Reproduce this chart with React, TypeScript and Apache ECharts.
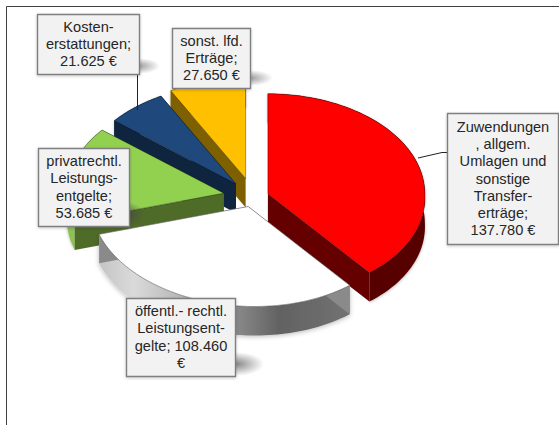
import React, { useEffect, useRef } from "react";
import * as echarts from "echarts";

const categories = [
  "Zuwendungen, allgem. Umlagen und sonstige Transfererträge",
  "öffentl.- rechtl. Leistungsentgelte",
  "privatrechtl. Leistungsentgelte",
  "Kostenerstattungen",
  "sonst. lfd. Erträge",
];
const values = [137780, 108460, 53685, 21625, 27650];
const labelTexts = [
  "Zuwendungen\n, allgem.\nUmlagen und\nsonstige\nTransfer-\nerträge;\n137.780 €",
  "öffentl.- rechtl.\nLeistungsent-\ngelte; 108.460\n€",
  "privatrechtl.\nLeistungs-\nentgelte;\n53.685 €",
  "Kosten-\nerstattungen;\n21.625 €",
  "sonst. lfd.\nErträge;\n27.650 €",
];
const topColors = ["#ff0000", "#ffffff", "#92d050", "#1f497d", "#ffc000"];
const faceColors = ["#640000", "#8a8a8a", "#4f6b28", "#0f243e", "#7f6000"];
const explode = [0.1, 0.1, 0.19, 0.17, 0.19];
const drawRank = [3, 4, 2, 1, 0];
const labelBoxes = [
  [447, 113, 111, 131],
  [126, 298, 109, 78],
  [38, 148, 91, 78],
  [37, 14, 102, 60],
  [172, 28, 78, 60],
];

const CX = 253;
const CY = 197;
const RX = 157;
const RY = 100;
const SHEAR = 0.04;
const DEPTH = 29;

const rimFill = (i: number): any => {
  if (i === 1) {
    return {
      type: "linear", x: 0, y: 0, x2: 1, y2: 0,
      colorStops: [
        { offset: 0, color: "#c4c4c4" },
        { offset: 0.14, color: "#dadada" },
        { offset: 0.45, color: "#a0a0a0" },
        { offset: 0.72, color: "#626262" },
        { offset: 1, color: "#727272" },
      ],
    };
  }
  if (i === 2) return "#8cc152";
  if (i === 0) return "#560000";
  return faceColors[i];
};

const renderSlice = (params: any, api: any) => {
  const i = params.dataIndex;
  const total = values.reduce((a, b) => a + b, 0);
  const before = values.slice(0, i).reduce((a, b) => a + b, 0);
  const start = (before / total) * Math.PI * 2;
  const end = ((before + api.value(0)) / total) * Math.PI * 2;
  const mid = (start + end) / 2;
  const ax = CX + Math.sin(mid) * explode[i] * RX;
  const ay = CY - Math.cos(mid) * explode[i] * RY;
  const rim: number[][] = [];
  const steps = 72;
  for (let s = 0; s <= steps; s++) {
    const t = start + ((end - start) * s) / steps;
    const front = Math.max(0, -Math.cos(t));
    rim.push([ax + (Math.sin(t) + SHEAR * front) * RX, ay - Math.cos(t) * RY]);
  }
  const down = (p: number[]) => [p[0], p[1] + DEPTH];
  const first = rim[0];
  const last = rim[rim.length - 1];
  const apex = [ax, ay];
  const z = drawRank[i] * 10;
  const stroke = i === 1 ? "rgba(90,90,90,0.75)" : "rgba(0,0,0,0.45)";
  const poly = (points: number[][], fill: any, z2: number, extra: any = {}) => ({
    type: "polygon",
    z2,
    silent: true,
    shape: { points },
    style: { fill, stroke: "none", ...extra },
  });
  return {
    type: "group",
    children: [
      poly([...rim, ...rim.slice().reverse().map(down)], rimFill(i), z + 1, {
        shadowBlur: i === 1 ? 5 : 3,
        shadowColor: "rgba(0,0,0,0.28)",
        shadowOffsetY: 1,
      }),
      poly([apex, first, down(first), down(apex)], faceColors[i], z + 2),
      poly([apex, last, down(last), down(apex)], faceColors[i], z + 3),
      poly([apex, ...rim], topColors[i], z + 4, { stroke, lineWidth: 0.8 }),
    ],
  };
};

export default function App() {
  const ref = useRef<HTMLDivElement>(null);
  useEffect(() => {
    const chart = echarts.init(ref.current!, undefined, { renderer: "svg" });
    const softShadow = (cx: number, cy: number, rx: number, ry: number, alpha: number) => ({
      type: "ellipse",
      z: 5,
      silent: true,
      shape: { cx, cy, rx, ry },
      style: {
        fill: {
          type: "radial", x: 0.5, y: 0.5, r: 0.5,
          colorStops: [
            { offset: 0, color: `rgba(70,70,70,${alpha})` },
            { offset: 1, color: "rgba(70,70,70,0)" },
          ],
        },
      },
    });
    chart.setOption({
      animation: false,
      backgroundColor: "#ffffff",
      series: [
        {
          type: "custom",
          coordinateSystem: "none",
          renderItem: renderSlice,
          data: values.map((value, i) => ({ name: categories[i], value })),
          z: 2,
        },
      ],
      graphic: [
        {
          type: "polyline",
          silent: true,
          z: 4,
          shape: { points: [[6.5, 425], [6.5, 6.5], [559, 6.5]] },
          style: { stroke: "#404040", lineWidth: 1, fill: "none" },
        },
        {
          type: "polyline",
          silent: true,
          z: 4,
          shape: { points: [[137.5, 74], [137.5, 110]] },
          style: { stroke: "#222222", lineWidth: 1, fill: "none" },
        },
        {
          type: "polyline",
          silent: true,
          z: 4,
          shape: { points: [[418, 158], [442, 152.5], [447, 152.5]] },
          style: { stroke: "#222222", lineWidth: 1, fill: "none" },
        },
        softShadow(138, 66, 22, 8, 0.55),
        softShadow(249, 78, 24, 8, 0.55),
        softShadow(236, 364, 28, 12, 0.65),
        softShadow(128, 214, 16, 12, 0.7),
        ...labelBoxes.flatMap((b, i) => [
          {
            type: "rect",
            silent: true,
            z: 8,
            shape: { x: b[0] + 0.5, y: b[1] + 0.5, width: b[2], height: b[3] },
            style: {
              fill: "#f2f2f2",
              stroke: "#7f7f7f",
              lineWidth: 1.4,
              shadowBlur: 3,
              shadowOffsetY: 1,
              shadowColor: "rgba(0,0,0,0.22)",
            },
          },
          {
            type: "text",
            silent: true,
            z: 9,
            style: {
              x: b[0] + b[2] / 2 + 0.5,
              y: b[1] + b[3] / 2,
              text: labelTexts[i],
              fill: "#262626",
              font: '14.6px "Liberation Sans", Arial, sans-serif',
              lineHeight: 17.3,
              align: "center",
              verticalAlign: "middle",
            },
          },
        ]),
      ],
    });
    return () => chart.dispose();
  }, []);
  return (
    <div
      ref={ref}
      style={{ position: "absolute", left: 0, top: 0, width: 559, height: 425 }}
    />
  );
}
